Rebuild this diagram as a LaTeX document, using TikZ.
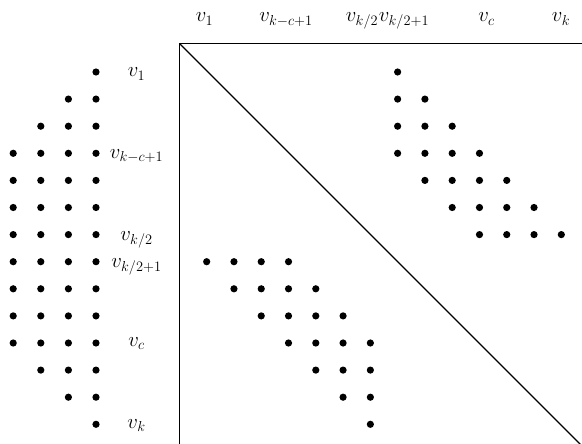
\documentclass[tikz,border=0pt]{standalone}
\usetikzlibrary{positioning}

\begin{document}
\begin{tikzpicture}[x=1pt,y=-1pt,font=\fontsize{21.5}{25}\selectfont,
    dot/.style={circle,fill=black,inner sep=0pt,minimum size=7.2pt},
    lbl/.style={inner sep=0pt,anchor=base}]
  \useasboundingbox (0,0) rectangle (582,444);
  % matrix frame and diagonal
  \coordinate (corner) at (179.5,43.5);
  \coordinate (topend) at (582,43.5);
  \coordinate (botend) at (179.5,444);
  \coordinate (diagend) at (582,446);
  \draw[line width=1.4pt] (topend) -- (corner) -- (botend);
  \draw[line width=1.4pt] (corner) -- (diagend);
  % column labels
  \node[lbl] (c1)   at (204.5,22) {$v_1$};
  \node[lbl] (ckc)  at (286,22)   {$v_{k-c+1}$};
  \node[lbl] (ck2)  at (362,22)   {$v_{k/2}$};
  \node[lbl] (ck21) at (404,22)   {$v_{k/2+1}$};
  \node[lbl] (cc)   at (486.5,22) {$v_c$};
  \node[lbl] (ck)   at (561,22)   {$v_k$};
  % row labels
  \node[lbl] (r1)   at (136.5,77)  {$v_1$};
  \node[lbl] (rkc)  at (136.5,158) {$v_{k-c+1}$};
  \node[lbl] (rk2)  at (136.5,240.5) {$v_{k/2}$};
  \node[lbl] (rk21) at (136.5,267.5) {$v_{k/2+1}$};
  \node[lbl] (rc)   at (136.5,346.5) {$v_c$};
  \node[lbl] (rk)   at (136.5,428.5) {$v_k$};
  % row counts on the left
  \foreach \i/\n in {1/1,2/2,3/3,4/4,5/4,6/4,7/4,8/4,9/4,10/4,11/4,12/3,13/2,14/1}
    \foreach \m in {1,...,\n}
      \node[dot] (l-\i-\m) at ({96-27.6*(\m-1)},{44.9+27.1*\i}) {};
  % upper band
  \foreach \i in {1,...,7}
    \foreach \d in {4,...,7}{
      \pgfmathtruncatemacro\j{\i+\d}
      \ifnum\j>7
        \node[dot] (u-\i-\j) at ({179.4+27.28*\j},{44.9+27.1*\i}) {};
      \fi
    }
  % lower band
  \foreach \j in {1,...,7}
    \foreach \d in {4,...,7}{
      \pgfmathtruncatemacro\i{\j+\d}
      \ifnum\i>7
        \node[dot] (b-\i-\j) at ({179.4+27.28*\j},{44.9+27.1*\i}) {};
      \fi
    }
\end{tikzpicture}
\end{document}
